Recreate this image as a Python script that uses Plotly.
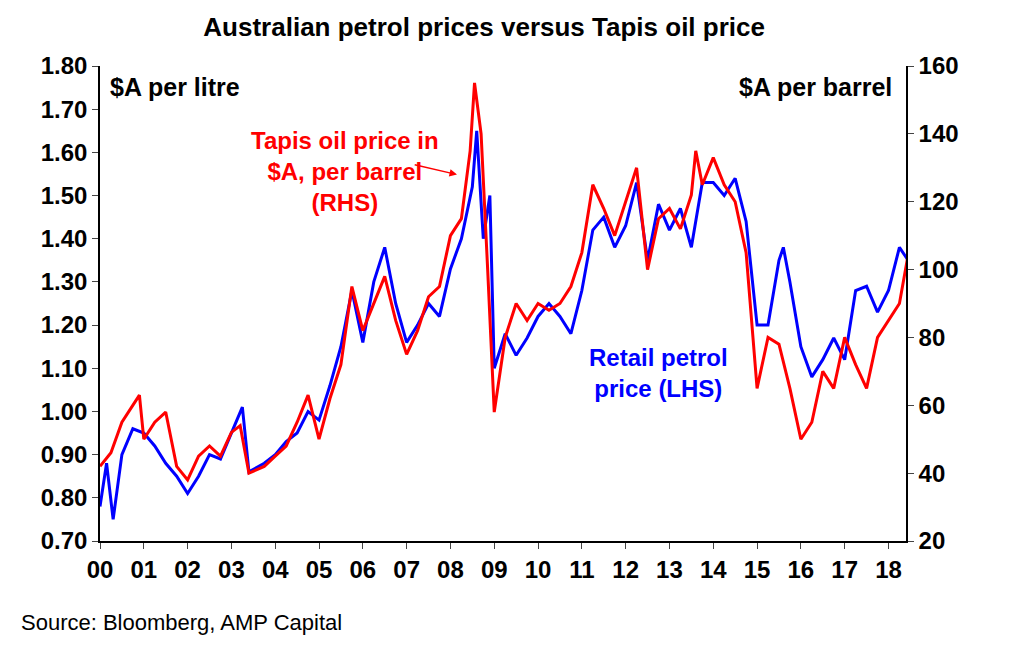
import plotly.graph_objects as go

petrol_t = [2000.0, 2000.15, 2000.3, 2000.5, 2000.75, 2001.0, 2001.25, 2001.5, 2001.75, 2002.0, 2002.25, 2002.5,
            2002.75, 2003.0, 2003.25, 2003.4, 2003.75, 2004.0, 2004.25, 2004.5, 2004.75, 2005.0, 2005.25, 2005.5,
            2005.75, 2006.0, 2006.25, 2006.5, 2006.75, 2007.0, 2007.25, 2007.5, 2007.75, 2008.0, 2008.25, 2008.5,
            2008.6, 2008.75, 2008.9, 2009.0, 2009.25, 2009.5, 2009.75, 2010.0, 2010.25, 2010.5, 2010.75, 2011.0,
            2011.25, 2011.5, 2011.75, 2012.0, 2012.25, 2012.5, 2012.75, 2013.0, 2013.25, 2013.5, 2013.75, 2014.0,
            2014.25, 2014.5, 2014.75, 2015.0, 2015.25, 2015.5, 2015.6, 2015.75, 2016.0, 2016.25, 2016.5, 2016.75,
            2017.0, 2017.25, 2017.5, 2017.75, 2018.0, 2018.25, 2018.45, 2018.6]
petrol = [0.78, 0.88, 0.75, 0.90, 0.96, 0.95, 0.92, 0.88, 0.85, 0.81, 0.85, 0.90,
          0.89, 0.95, 1.01, 0.86, 0.88, 0.90, 0.93, 0.95, 1.00, 0.98, 1.06, 1.15,
          1.28, 1.16, 1.30, 1.38, 1.25, 1.16, 1.20, 1.25, 1.22, 1.33, 1.40, 1.52,
          1.65, 1.40, 1.50, 1.10, 1.18, 1.13, 1.17, 1.22, 1.25, 1.22, 1.18, 1.28,
          1.42, 1.45, 1.38, 1.43, 1.53, 1.35, 1.48, 1.42, 1.47, 1.38, 1.53, 1.53,
          1.50, 1.54, 1.44, 1.20, 1.20, 1.35, 1.38, 1.30, 1.15, 1.08, 1.12, 1.17,
          1.12, 1.28, 1.29, 1.23, 1.28, 1.38, 1.35, 1.46]

tapis_t = [2000.0, 2000.25, 2000.5, 2000.75, 2000.9, 2001.0, 2001.25, 2001.5, 2001.75, 2002.0, 2002.25, 2002.5,
           2002.75, 2003.0, 2003.2, 2003.4, 2003.75, 2004.0, 2004.25, 2004.5, 2004.75, 2005.0, 2005.25, 2005.5,
           2005.75, 2006.0, 2006.25, 2006.5, 2006.75, 2007.0, 2007.25, 2007.5, 2007.75, 2008.0, 2008.25, 2008.45,
           2008.55, 2008.7, 2008.85, 2009.0, 2009.25, 2009.5, 2009.75, 2010.0, 2010.25, 2010.5, 2010.75, 2011.0,
           2011.25, 2011.5, 2011.75, 2012.0, 2012.25, 2012.5, 2012.75, 2013.0, 2013.25, 2013.5, 2013.6, 2013.75,
           2014.0, 2014.25, 2014.5, 2014.75, 2015.0, 2015.25, 2015.5, 2015.75, 2016.0, 2016.25, 2016.5, 2016.75,
           2017.0, 2017.25, 2017.5, 2017.75, 2018.0, 2018.25, 2018.5]
tapis = [42, 46, 55, 60, 63, 50, 55, 58, 42, 38, 45, 48,
         45, 52, 54, 40, 42, 45, 48, 55, 63, 50, 62, 72,
         95, 82, 90, 98, 85, 75, 82, 92, 95, 110, 115, 135,
         155, 140, 100, 58, 80, 90, 85, 90, 88, 90, 95, 105,
         125, 118, 110, 120, 130, 100, 115, 118, 112, 122, 135, 125,
         133, 125, 120, 105, 65, 80, 78, 65, 50, 55, 70, 65,
         80, 72, 65, 80, 85, 90, 108]

year_ticks = list(range(2000, 2019))
year_labels = [f"{y % 100:02d}" for y in year_ticks]
left_ticks = [0.7 + 0.1 * i for i in range(12)]
right_ticks = list(range(20, 161, 20))

font = "Liberation Sans, Arial, sans-serif"
fig = go.Figure()
fig.add_trace(go.Scatter(x=petrol_t, y=petrol, mode="lines", line=dict(color="#0000ff", width=3),
                         name="Retail petrol price (LHS)"))
fig.add_trace(go.Scatter(x=tapis_t, y=tapis, mode="lines", line=dict(color="#ff0000", width=3),
                         name="Tapis oil price", yaxis="y2"))

axis_style = dict(showgrid=False, showline=True, linecolor="black", linewidth=1.5, ticks="outside",
                  ticklen=6, zeroline=False, tickfont=dict(size=24, family=font))
fig.update_layout(
    width=1024, height=664, showlegend=False,
    paper_bgcolor="white", plot_bgcolor="white",
    margin=dict(l=92, r=126, t=58, b=131),
    font=dict(family=font, size=22, color="black"),
    title=dict(text="<b>Australian petrol prices versus Tapis oil price</b>", x=0.465, y=0.985,
               xanchor="center", yanchor="top", font=dict(size=26)),
    xaxis=dict(range=[2000, 2018.4], tickvals=year_ticks, ticktext=[f"<b>{t}</b>" for t in year_labels],
               **axis_style),
    yaxis=dict(range=[0.70, 1.80], tickvals=left_ticks, ticktext=[f"<b>{v:.2f}</b>" for v in left_ticks],
               **axis_style),
    yaxis2=dict(range=[20, 160], tickvals=right_ticks, ticktext=[f"<b>{v}</b>" for v in right_ticks],
                overlaying="y", side="right", **axis_style),
    annotations=[
        dict(text="<b>$A per litre</b>", xref="paper", yref="paper", x=0.01, y=0.99, xanchor="left",
             yanchor="top", showarrow=False, font=dict(size=25)),
        dict(text="<b>$A per barrel</b>", xref="paper", yref="paper", x=0.985, y=0.99, xanchor="right",
             yanchor="top", showarrow=False, font=dict(size=25)),
        dict(text="<b>Tapis oil price in<br>$A, per barrel<br>(RHS)</b>", xref="x", yref="paper", x=2005.6,
             y=0.875, xanchor="center", yanchor="top", showarrow=False, font=dict(size=24, color="#ff0000")),
        dict(text="", xref="x", yref="y2", x=2008.15, y=128, ax=2007.15, ay=131, axref="x", ayref="y2",
             showarrow=True, arrowhead=2, arrowcolor="#ff0000", arrowwidth=1.5),
        dict(text="<b>Retail petrol<br>price (LHS)</b>", xref="x", yref="paper", x=2012.75, y=0.42,
             xanchor="center", yanchor="top", showarrow=False, font=dict(size=24, color="#0000ff")),
        dict(text="Source: Bloomberg, AMP Capital", xref="paper", yref="paper", x=-0.1, y=-0.14,
             xanchor="left", yanchor="top", showarrow=False, font=dict(size=22)),
    ],
)
fig.write_html("out.html")
